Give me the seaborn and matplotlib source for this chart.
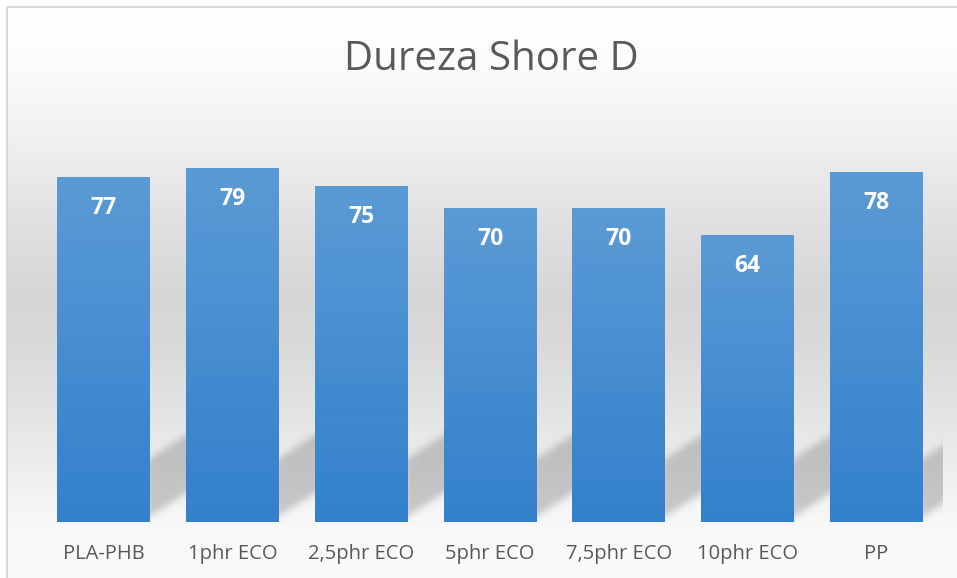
import numpy as np
import matplotlib
matplotlib.use("Agg")
import matplotlib.pyplot as plt
from matplotlib.path import Path
from matplotlib.patches import Rectangle
import seaborn as sns

categories = ["PLA-PHB", "1phr ECO", "2,5phr ECO", "5phr ECO", "7,5phr ECO", "10phr ECO", "PP"]
hardness = [77, 79, 75, 70, 70, 64, 78]
title = "Dureza Shore D"

W, H = 957, 578
sns.set_theme(style="white")
plt.rcParams["font.family"] = ["Open Sans", "DejaVu Sans"]

fig = plt.figure(figsize=(W / 100, H / 100), dpi=100)
fig.patch.set_facecolor("white")

# background layer in pixel coordinates
bg = fig.add_axes([0, 0, 1, 1], zorder=-1)
bg.set_xlim(0, W)
bg.set_ylim(H, 0)
bg.axis("off")

# vertical grey band of the chart area
ys = np.array([7, 60, 120, 160, 200, 250, 300, 350, 400, 450, 500, 530, 578])
gs = np.array([255, 252, 244, 236, 229, 220, 214, 218, 226, 234, 244, 249, 251])
yy = np.arange(7, H)
g = np.interp(yy, ys, gs) / 255.0
grad = np.repeat(g[:, None, None], 3, axis=2)
bg.imshow(grad, extent=(7, W, H, 7), aspect="auto", interpolation="bilinear", zorder=0)
bg.add_patch(Rectangle((7, 7), W + 10, H + 10, fill=False, edgecolor="#d9d9d9", lw=1.5, zorder=3))

# plot area
left_px, right_px, base_px, top_px = 39, 941, 522, 118.4
ax = fig.add_axes([left_px / W, (H - base_px) / H, (right_px - left_px) / W, (base_px - top_px) / H])
ax.set_facecolor("none")

sns.barplot(x=categories, y=hardness, color="#4a8fd2", saturation=1, width=0.72, ax=ax,
            linewidth=0, edgecolor="none", zorder=2)
ax.set_xlim(-0.5, len(categories) - 0.5)
ax.set_ylim(0, 90)
for s in ax.spines.values():
    s.set_visible(False)
ax.set_yticks([])
ax.set_xlabel("")
ax.set_ylabel("")
ax.tick_params(axis="x", length=0, pad=16, labelsize=14.5, labelcolor="#595959")

# vertical blue gradient on every bar
top_c = np.array([91, 155, 213]) / 255.0
bot_c = np.array([51, 128, 204]) / 255.0
t = np.linspace(0, 1, 256)[:, None]
bar_grad = (top_c[None, :] * (1 - t) + bot_c[None, :] * t)[:, None, :]
for p in ax.patches:
    x0, w, h = p.get_x(), p.get_width(), p.get_height()
    im = ax.imshow(bar_grad, extent=(x0, x0 + w, 0, h), aspect="auto",
                   interpolation="bilinear", zorder=2.5)
    im.set_clip_path(p)

# value labels inside the bars
for p, v in zip(ax.patches, hardness):
    ax.annotate(f"{v:g}", (p.get_x() + p.get_width() / 2, v), xytext=(0, -22.5),
                textcoords="offset points", ha="center", va="center",
                color="white", fontsize=16.5, fontweight="bold", zorder=4)

# soft diagonal shadows cast to the right of each bar
fig.canvas.draw()
px, py = np.meshgrid(np.arange(W) + 0.5, np.arange(H) + 0.5)
pts = np.column_stack([px.ravel(), py.ravel()])
mask = np.zeros(H * W)
for p in ax.patches:
    xr_disp, yb_disp = ax.transData.transform((p.get_x() + p.get_width(), 0))
    xr, yb = xr_disp, H - yb_disp
    G, s, th = 45, 0.7, 58
    poly = Path([(xr - 4, yb - 3), (xr + G, yb - 3 - s * G), (xr + G, yb - 3 - th - s * G),
                 (xr - 4, yb - 3 - th), (xr - 4, yb - 3)])
    mask = np.maximum(mask, poly.contains_points(pts).astype(float))
mask = mask.reshape(H, W)
k = np.arange(-10, 11)
ker = np.exp(-0.5 * (k / 3.5) ** 2)
ker /= ker.sum()
mask = np.apply_along_axis(lambda r: np.convolve(r, ker, mode="same"), 1, mask)
mask = np.apply_along_axis(lambda c: np.convolve(c, ker, mode="same"), 0, mask)
mask[:, int(right_px) + 2:] = 0
mask[int(base_px):, :] = 0
shadow = np.zeros((H, W, 4))
shadow[..., :3] = 0.45
shadow[..., 3] = mask * 0.36
bg.imshow(shadow, extent=(0, W, H, 0), aspect="auto", interpolation="nearest", zorder=1)

fig.text(491 / W, 1 - 60 / H, title, ha="center", va="center", fontsize=29,
         color="#595959", fontweight="normal")

fig.savefig("out.png", dpi=100)
